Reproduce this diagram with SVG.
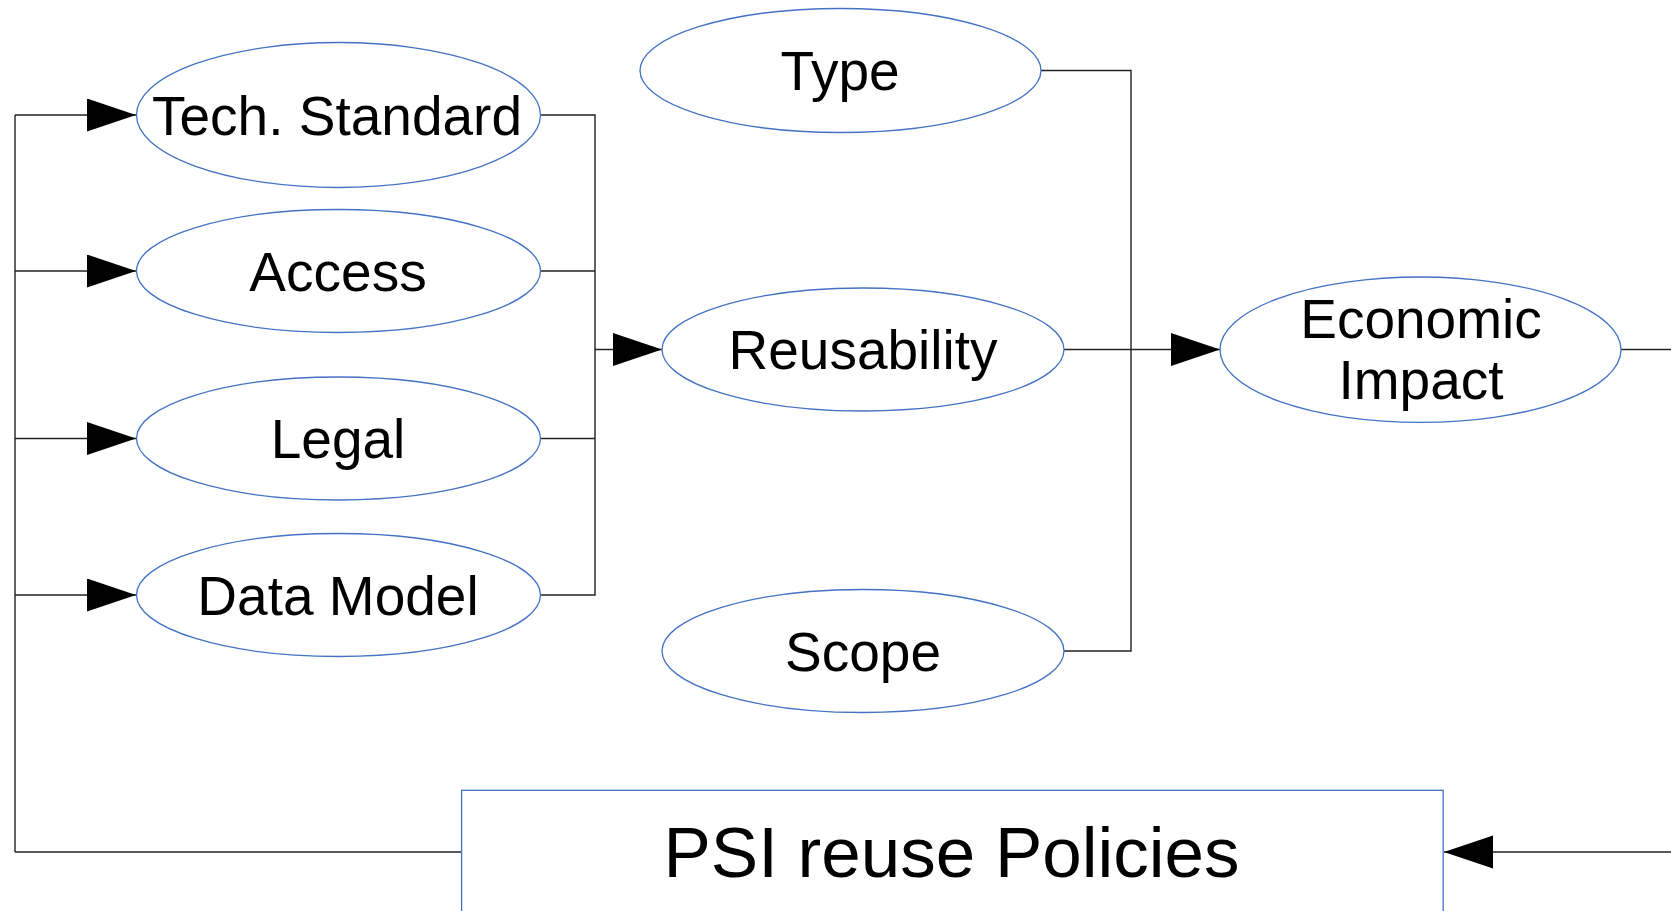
<svg xmlns="http://www.w3.org/2000/svg" width="1671" height="911" viewBox="0 0 1671 911">
<style>
.node ellipse,.node rect{fill:#fff;stroke:#4472C4;stroke-width:1.3}
.lbl{font-family:"Liberation Sans",Arial,sans-serif;font-size:55px;fill:#000;text-anchor:middle}
.big{font-size:71px}
.conn{fill:none;stroke:#222;stroke-width:1.4}
</style>
<defs>
<marker id="ah" markerUnits="userSpaceOnUse" markerWidth="50" markerHeight="34" refX="49" refY="16.5" orient="auto">
<path d="M0,0 L49,16.5 L0,33 z" fill="#000"/>
</marker>
</defs>
<rect width="1671" height="911" fill="#fff"/>
<g id="connectors">
<path class="conn" d="M15,852 L15,115"/>
<path class="conn" d="M15,115 L136,115" marker-end="url(#ah)"/>
<path class="conn" d="M15,271 L136,271" marker-end="url(#ah)"/>
<path class="conn" d="M15,438.5 L136,438.5" marker-end="url(#ah)"/>
<path class="conn" d="M15,595 L136,595" marker-end="url(#ah)"/>
<path class="conn" d="M540,115 L595,115 L595,595 L540,595"/>
<path class="conn" d="M540,271 L595,271"/>
<path class="conn" d="M540,438.5 L595,438.5"/>
<path class="conn" d="M595,349.5 L662,349.5" marker-end="url(#ah)"/>
<path class="conn" d="M1041,70.5 L1131,70.5 L1131,651 L1064,651"/>
<path class="conn" d="M1064,349.5 L1220,349.5" marker-end="url(#ah)"/>
<path class="conn" d="M1621,349.5 L1671,349.5"/>
<path class="conn" d="M1671,852 L1444,852" marker-end="url(#ah)"/>
<path class="conn" d="M15,852 L462,852"/>
</g>
<g id="tech-standard" class="node">
<ellipse cx="338.5" cy="115" rx="202" ry="72.5"/>
<text class="lbl" x="337" y="135">Tech. Standard</text>
</g>
<g id="access" class="node">
<ellipse cx="338.5" cy="271" rx="202" ry="61.5"/>
<text class="lbl" x="338" y="290.5">Access</text>
</g>
<g id="legal" class="node">
<ellipse cx="338.5" cy="438.5" rx="202" ry="61.5"/>
<text class="lbl" x="338" y="458">Legal</text>
</g>
<g id="data-model" class="node">
<ellipse cx="338.5" cy="595" rx="202" ry="61.5"/>
<text class="lbl" x="338" y="614.5">Data Model</text>
</g>
<g id="type" class="node">
<ellipse cx="840.5" cy="70.5" rx="200.5" ry="62"/>
<text class="lbl" x="840" y="90">Type</text>
</g>
<g id="reusability" class="node">
<ellipse cx="863" cy="349.5" rx="201" ry="61.5"/>
<text class="lbl" x="863" y="369">Reusability</text>
</g>
<g id="scope" class="node">
<ellipse cx="863" cy="651" rx="201" ry="61.5"/>
<text class="lbl" x="863" y="670.5">Scope</text>
</g>
<g id="economic-impact" class="node">
<ellipse cx="1420.5" cy="349.7" rx="200.5" ry="72.7"/>
<text class="lbl" x="1421" y="338">Economic</text>
<text class="lbl" x="1421" y="399">Impact</text>
</g>
<g id="psi-reuse-policies" class="node">
<rect x="461.6" y="790.3" width="981.6" height="140"/>
<text class="lbl big" x="951.5" y="876.7">PSI reuse Policies</text>
</g>
</svg>
